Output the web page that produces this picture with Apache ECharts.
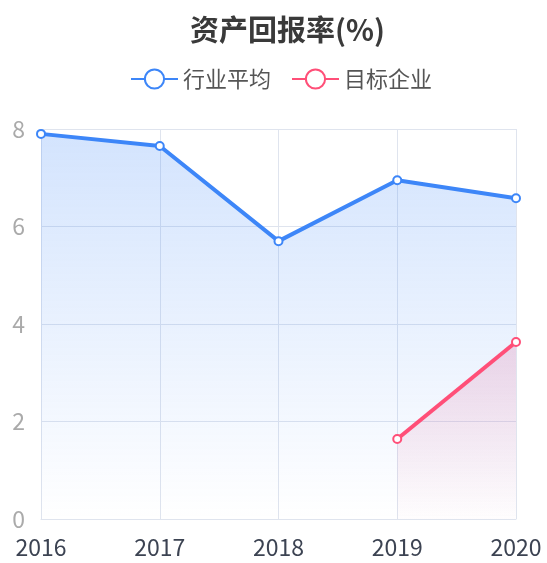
<!DOCTYPE html>
<html>
<head>
<meta charset="utf-8">
<script src="https://cdn.jsdelivr.net/npm/echarts@6/dist/echarts.min.js"></script>
<style>
  html, body { margin: 0; padding: 0; background: #fff; }
  #chart { width: 547px; height: 563px; }
</style>
</head>
<body>
<div id="chart"></div>
<script>
// 年份
const years = ["2016", "2017", "2018", "2019", "2020"];
// 行业平均
const industryAvg = [7.9, 7.65, 5.7, 6.95, 6.58];
// 目标企业 (前三年无数据)
const targetCompany = [null, null, null, 1.64, 3.63];
const yTicks = [0, 2, 4, 6, 8];

const blue = "#3d86f8";
const red = "#ff4f78";

const myChart = echarts.init(document.getElementById("chart"));
const option = {
  textStyle: { fontFamily: "'Noto Sans CJK SC', 'Noto Sans', sans-serif" },
  title: {
    text: "资产回报率(%)",
    left: 185,
    top: 10,
    textStyle: { fontSize: 29, fontWeight: "bold", color: "#3a3a3a" },
  },
  legend: {
    top: 63,
    left: 125,
    itemWidth: 47,
    itemHeight: 24,
    itemGap: 20,
    textStyle: { fontSize: 22, color: "#555" },
    data: ["行业平均", "目标企业"],
  },
  grid: {
    left: 41,
    right: 31,
    top: 129,
    bottom: 44,
  },
  xAxis: {
    type: "category",
    data: years,
    boundaryGap: false,
    axisLine: { lineStyle: { color: "#dfe4ee" } },
    axisTick: { show: false },
    axisLabel: { fontSize: 23, color: "#3c4352", margin: 17 },
    splitLine: { show: true, lineStyle: { color: "#dfe4ee" } },
  },
  yAxis: {
    type: "value",
    min: yTicks[0],
    max: yTicks[yTicks.length - 1],
    interval: 2,
    axisLine: { show: false },
    axisTick: { show: false },
    axisLabel: { fontSize: 23, color: "#aaaaaa", margin: 16 },
    splitLine: { lineStyle: { color: "#dfe4ee" } },
  },
  series: [
    {
      name: "行业平均",
      type: "line",
      data: industryAvg,
      symbol: "emptyCircle",
      symbolSize: 8,
      lineStyle: { width: 4, color: blue },
      itemStyle: { color: blue },
      areaStyle: {
        color: new echarts.graphic.LinearGradient(0, 0, 0, 1, [
          { offset: 0, color: "rgba(61,134,248,0.32)" },
          { offset: 1, color: "rgba(61,134,248,0.0)" },
        ]),
      },
    },
    {
      name: "目标企业",
      type: "line",
      data: targetCompany,
      symbol: "emptyCircle",
      symbolSize: 8,
      lineStyle: { width: 4, color: red },
      itemStyle: { color: red },
      areaStyle: {
        color: new echarts.graphic.LinearGradient(0, 0, 0, 1, [
          { offset: 0, color: "rgba(225,120,165,0.38)" },
          { offset: 1, color: "rgba(225,120,165,0.02)" },
        ]),
      },
    },
  ],
};
option && myChart.setOption(option, true);
</script>
</body>
</html>
